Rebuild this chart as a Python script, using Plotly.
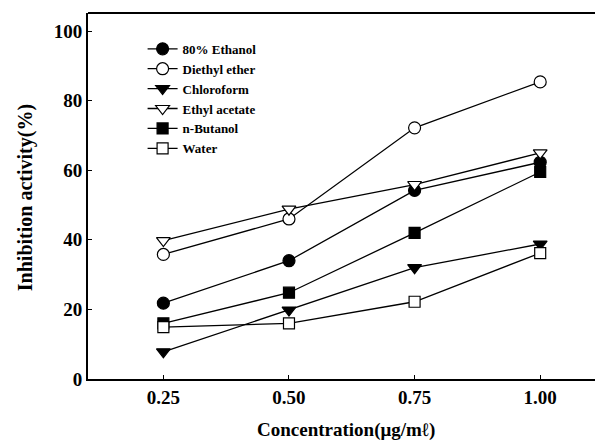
import plotly.graph_objects as go

concentration = [0.25, 0.50, 0.75, 1.00]
tick_labels = ["0.25", "0.50", "0.75", "1.00"]

ethanol_80 = [21.8, 34.0, 54.2, 62.3]
diethyl_ether = [35.8, 46.0, 72.2, 85.4]
chloroform = [7.8, 19.8, 32.0, 38.8]
ethyl_acetate = [39.8, 48.8, 55.9, 65.0]
n_butanol = [16.0, 24.8, 42.0, 59.5]
water = [14.9, 16.0, 22.2, 36.2]

series = [
    ("80% Ethanol", ethanol_80, "circle", "black", 12),
    ("Diethyl ether", diethyl_ether, "circle", "white", 12),
    ("Chloroform", chloroform, "triangle-down", "black", 12),
    ("Ethyl acetate", ethyl_acetate, "triangle-down", "white", 12),
    ("n-Butanol", n_butanol, "square", "black", 11),
    ("Water", water, "square", "white", 11),
]

font_family = "Liberation Serif, Times New Roman, serif"

# page has an 8px body margin; plot area in page coords: x 88..603, y 13..379
L, T, B_FIG = 80, 5, 371
PW, PH = 515, 366

fig = go.Figure()
for name, vals, sym, fill, size in series:
    fig.add_trace(go.Scatter(
        x=concentration, y=vals, name=name, mode="lines+markers",
        line=dict(color="black", width=1.3),
        marker=dict(symbol=sym, size=size, color=fill,
                    line=dict(color="black", width=1.2)),
    ))

fig.update_layout(
    width=603, height=445,
    margin=dict(l=L, r=603 - L - PW, t=T, b=445 - B_FIG),
    paper_bgcolor="white", plot_bgcolor="white",
    font=dict(family=font_family, color="black"),
    showlegend=True,
    legend=dict(x=0.106, y=0.943, xanchor="left", yanchor="top",
                font=dict(size=13, family=font_family, weight="bold"),
                bgcolor="rgba(0,0,0,0)", tracegroupgap=0),
    xaxis=dict(range=[0.1, 1.125], tickvals=concentration, ticktext=tick_labels,
               ticks="inside", ticklen=4, tickwidth=1, tickcolor="black",
               showline=True, linewidth=2, linecolor="black", showgrid=False,
               zeroline=False,
               tickfont=dict(size=19, family=font_family, weight="bold")),
    yaxis=dict(range=[0, 105.2], tickvals=[0, 20, 40, 60, 80, 100],
               ticks="inside", ticklen=4, tickwidth=1, tickcolor="black",
               showline=True, linewidth=2, linecolor="black", showgrid=False,
               zeroline=False,
               tickfont=dict(size=19, family=font_family, weight="bold")),
    shapes=[dict(type="line", xref="paper", yref="paper", x0=0, x1=1, y0=1, y1=1,
                 line=dict(color="black", width=2))],
    annotations=[
        dict(text="Concentration(μg/mℓ)", xref="paper", yref="paper",
             x=0.5, y=-0.139, xanchor="center", yanchor="middle",
             showarrow=False, font=dict(size=19, family=font_family, weight="bold")),
        dict(text="Inhibition activity(%)", xref="paper", yref="paper",
             x=-0.122, y=0.4945, xanchor="center", yanchor="middle",
             textangle=-90, showarrow=False,
             font=dict(size=20, family=font_family, weight="bold")),
    ],
)

fig.write_html("out.html")
